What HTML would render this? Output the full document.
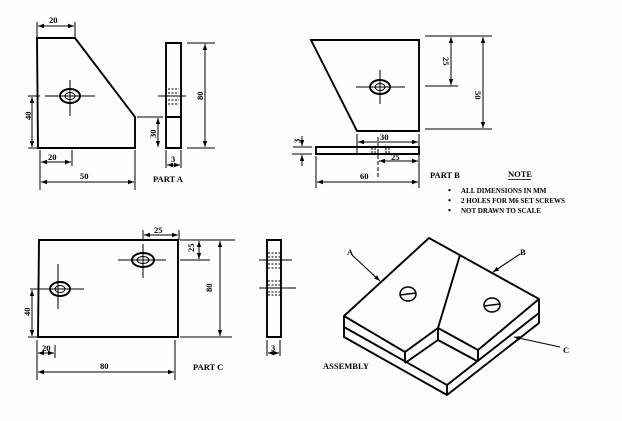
<!DOCTYPE html>
<html><head><style>html,body{margin:0;padding:0;background:#fff}svg{display:block}</style></head>
<body>
<svg width="622" height="421" viewBox="0 0 622 421" xmlns="http://www.w3.org/2000/svg" font-family="Liberation Serif, serif" font-weight="bold" font-size="8.5">
<defs>
<marker id="a" markerWidth="6" markerHeight="6" refX="6" refY="3" orient="auto-start-reverse" markerUnits="userSpaceOnUse"><path d="M0,0.8 L6,3 L0,5.2z" fill="#000"/></marker>
</defs>
<rect width="622" height="421" fill="#fdfdfd"/>
<g stroke="#000" fill="none" stroke-width="1.9">
<path d="M37,38 H75 L135,117 V148 H38 Z"/>
<path d="M166,43 H181 V148 H166 Z M166,117 H181"/>
</g>
<g stroke="#000" fill="none" stroke-width="1">
<line x1="37" y1="38" x2="37" y2="22"/><line x1="75" y1="38" x2="75" y2="22"/>
<line x1="38" y1="26" x2="74" y2="26" marker-start="url(#a)" marker-end="url(#a)"/>
<ellipse cx="70" cy="96" rx="10" ry="7" stroke-width="1.9"/><ellipse cx="70" cy="96" rx="5" ry="3.5"/>
<line x1="45" y1="96" x2="95" y2="96"/><line x1="70" y1="80" x2="70" y2="116"/>
<line x1="28" y1="96" x2="40" y2="96"/><line x1="32" y1="97" x2="32" y2="147" marker-start="url(#a)" marker-end="url(#a)"/>
<line x1="28" y1="148" x2="37" y2="148"/>
<line x1="137" y1="117" x2="163" y2="117"/><line x1="158" y1="118" x2="158" y2="147" marker-start="url(#a)" marker-end="url(#a)"/>
<line x1="40" y1="150" x2="40" y2="190"/><line x1="72" y1="150" x2="72" y2="166"/><line x1="135" y1="150" x2="135" y2="190"/>
<line x1="41" y1="162" x2="71" y2="162" marker-start="url(#a)" marker-end="url(#a)"/>
<line x1="41" y1="182" x2="134" y2="182" marker-start="url(#a)" marker-end="url(#a)"/>
<line x1="187" y1="43" x2="215" y2="43"/><line x1="187" y1="148" x2="215" y2="148"/>
<line x1="205" y1="44" x2="205" y2="147" marker-start="url(#a)" marker-end="url(#a)"/>
<line x1="158" y1="96" x2="186" y2="96"/>
<path d="M168,89 H179 M168,93 H179 M168,100 H179 M168,104 H179" stroke-dasharray="2,1.5"/>
<line x1="166" y1="150" x2="166" y2="168"/><line x1="181" y1="150" x2="181" y2="168"/>
<line x1="167" y1="165" x2="180" y2="165" marker-start="url(#a)" marker-end="url(#a)"/>
</g>
<g fill="#000">
<text x="49" y="23">20</text><text x="25" y="120" transform="rotate(-90 28 117)">40</text>
<text x="150" y="138" transform="rotate(-90 153 135)">30</text>
<text x="48" y="160">20</text><text x="80" y="179">50</text>
<text x="197" y="100" transform="rotate(-90 200 97)">80</text><text x="171" y="162">3</text>
<text x="153" y="182">PART A</text>
</g>
<g stroke="#000" fill="none" stroke-width="1.9">
<path d="M311,40 H419 V131 H357 Z"/>
<path d="M316,147 H419 V154 H316 Z"/>
</g>
<g stroke="#000" fill="none" stroke-width="1">
<ellipse cx="380" cy="87" rx="10" ry="7" stroke-width="1.9"/><ellipse cx="380" cy="87" rx="5" ry="3.5"/>
<line x1="356" y1="87" x2="405" y2="87"/><line x1="380" y1="70" x2="380" y2="104"/>
<line x1="425" y1="36" x2="492" y2="36"/><line x1="425" y1="86" x2="458" y2="86"/><line x1="425" y1="129" x2="492" y2="129"/>
<line x1="451" y1="37" x2="451" y2="85" marker-start="url(#a)" marker-end="url(#a)"/>
<line x1="483" y1="37" x2="483" y2="128" marker-start="url(#a)" marker-end="url(#a)"/>
<line x1="357" y1="134" x2="357" y2="154"/><line x1="419" y1="134" x2="419" y2="188"/><line x1="316" y1="156" x2="316" y2="188"/>
<line x1="378" y1="137" x2="378" y2="178" stroke-dasharray="4,2"/>
<line x1="358" y1="142" x2="418" y2="142" marker-start="url(#a)" marker-end="url(#a)"/>
<line x1="379" y1="161" x2="418" y2="161" marker-start="url(#a)" marker-end="url(#a)"/>
<line x1="317" y1="182" x2="418" y2="182" marker-start="url(#a)" marker-end="url(#a)"/>
<path d="M372,148 V153 M375,148 V153 M386,148 V153 M389,148 V153" stroke-dasharray="2,1"/>
<line x1="293" y1="147" x2="312" y2="147"/><line x1="292" y1="154" x2="312" y2="154"/>
<line x1="302" y1="136" x2="302" y2="146" marker-end="url(#a)"/><line x1="302" y1="166" x2="302" y2="155" marker-end="url(#a)"/>
</g>
<g fill="#000">
<text x="443" y="63" transform="rotate(90 446 60)">25</text>
<text x="475" y="97" transform="rotate(90 478 94)">50</text>
<text x="380" y="140">30</text><text x="391" y="160">25</text><text x="360" y="179">60</text>
<text x="294" y="143" transform="rotate(-90 297 140)">3</text>
<text x="430" y="178">PART B</text>
<text x="508" y="177">NOTE</text>
<rect x="508" y="179" width="23" height="0.8"/>
<text x="448" y="193">•</text><text x="461" y="193" font-size="7">ALL DIMENSIONS IN MM</text>
<text x="448" y="203">•</text><text x="461" y="203" font-size="7">2 HOLES FOR M6 SET SCREWS</text>
<text x="448" y="213">•</text><text x="461" y="213" font-size="7">NOT DRAWN TO SCALE</text>
</g>
<g stroke="#000" fill="none" stroke-width="1.9">
<path d="M39,240 H178 V337 H38 Z"/>
<path d="M267,240 H281 V337 H267 Z"/>
</g>
<g stroke="#000" fill="none" stroke-width="1">
<ellipse cx="60" cy="289" rx="10" ry="7" stroke-width="1.9"/><ellipse cx="60" cy="289" rx="5" ry="3.5"/>
<line x1="30" y1="289" x2="84" y2="289"/><line x1="58" y1="264" x2="58" y2="309"/>
<ellipse cx="143" cy="260" rx="11" ry="7" stroke-width="1.9"/><ellipse cx="143" cy="260" rx="6" ry="3.5"/>
<line x1="118" y1="260" x2="166" y2="260"/><line x1="143" y1="244" x2="143" y2="278"/>
<line x1="143" y1="230" x2="143" y2="240"/><line x1="179" y1="230" x2="179" y2="240"/>
<line x1="144" y1="235" x2="178" y2="235" marker-start="url(#a)" marker-end="url(#a)"/>
<line x1="180" y1="240" x2="235" y2="240"/><line x1="180" y1="260" x2="210" y2="260"/><line x1="180" y1="337" x2="232" y2="337"/>
<line x1="199" y1="241" x2="199" y2="259" marker-start="url(#a)" marker-end="url(#a)"/>
<line x1="220" y1="241" x2="220" y2="336" marker-start="url(#a)" marker-end="url(#a)"/>
<line x1="32" y1="290" x2="32" y2="336" marker-start="url(#a)" marker-end="url(#a)"/><line x1="28" y1="337" x2="37" y2="337"/>
<line x1="37" y1="340" x2="37" y2="380"/><line x1="55" y1="345" x2="55" y2="358"/><line x1="175" y1="340" x2="175" y2="380"/>
<line x1="38" y1="353" x2="54" y2="353" marker-start="url(#a)" marker-end="url(#a)"/>
<line x1="38" y1="372" x2="174" y2="372" marker-start="url(#a)" marker-end="url(#a)"/>
<line x1="259" y1="260" x2="292" y2="260"/><line x1="259" y1="288" x2="296" y2="288"/>
<path d="M268,253 H280 M268,257 H280 M268,264 H280 M268,268 H280 M268,281 H280 M268,285 H280 M268,292 H280 M268,295 H280" stroke-dasharray="2,1.5"/>
<line x1="267" y1="340" x2="267" y2="356"/><line x1="280" y1="340" x2="280" y2="356"/>
<line x1="268" y1="353" x2="279" y2="353" marker-start="url(#a)" marker-end="url(#a)"/>
</g>
<g fill="#000">
<text x="154" y="233">25</text>
<text x="188" y="252" transform="rotate(-90 191 249)">25</text>
<text x="206" y="292" transform="rotate(-90 209 289)">80</text>
<text x="24" y="316" transform="rotate(-90 27 313)">40</text>
<text x="42" y="351">20</text><text x="100" y="369">80</text>
<text x="271" y="351">3</text>
<text x="193" y="370">PART C</text>
</g>
<g stroke="#000" fill="none" stroke-width="1.9" stroke-linejoin="round">
<path d="M429,238 L539,299 V323 L447,395 L344,337 V316 Z"/>
<path d="M344,316 L405,352 V363 M344,327 L447,385 L539,313"/>
<path d="M460,255 L438,328 L405,352 M438,328 V340 M405,363 L438,340 L477,361 M438,328 L478,350 V360 M478,350 L539,299"/>
<line x1="447" y1="385" x2="447" y2="395"/>
</g>
<g stroke="#000" fill="none" stroke-width="1.5">
<ellipse cx="408" cy="294" rx="8" ry="7"/><line x1="400" y1="295" x2="416" y2="293"/>
<ellipse cx="492" cy="305" rx="8" ry="7"/><line x1="484" y1="306" x2="500" y2="304"/>
</g>
<g stroke="#000" stroke-width="1.1">
<line x1="352" y1="255" x2="380" y2="281" marker-end="url(#a)"/>
<line x1="520" y1="254" x2="493" y2="272" marker-end="url(#a)"/>
<line x1="560" y1="347" x2="514" y2="337" marker-end="url(#a)"/>
</g>
<g fill="#000">
<text x="347" y="255">A</text><text x="520" y="255">B</text><text x="563" y="353">C</text>
<text x="323" y="369">ASSEMBLY</text>
</g>
</svg>
</body></html>
